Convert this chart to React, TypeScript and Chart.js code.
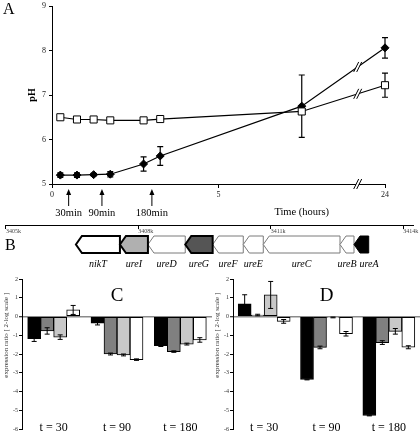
import React, { useEffect, useRef } from "react";
import { Chart, registerables } from "chart.js";
Chart.register(...registerables);

// ---------------- Panel A: pH over time ----------------
const TIME_H = [0.25, 0.75, 1.25, 1.75, 2.75, 3.25, 7.5, 24];
const PH_FILLED = [5.2, 5.2, 5.21, 5.22, 5.45, 5.63, 6.75, 8.06];
const PH_FILLED_ERR = [0.05, 0.05, 0.03, 0.06, 0.16, 0.21, 0.7, 0.23];
const PH_OPEN = [6.5, 6.45, 6.45, 6.43, 6.43, 6.46, 6.63, 7.22];
const PH_OPEN_ERR = [0, 0, 0, 0, 0, 0, 0, 0.27];
const TIME_TICKS_H = [0, 5, 24];
const SAMPLE_MIN = [30, 90, 180];
// broken time axis: linear up to 9 h, then 15 h squeezed into one axis unit
const AXIS_BREAK_FROM_H = 9;
const AXIS_BREAK_SQUEEZE = 15;
const BREAK_MARK_AT = 9.18;

// ---------------- Panel B: gene map ----------------
const GENE_NAMES = ["nikT", "ureI", "ureD", "ureG", "ureF", "ureE", "ureC", "ureB", "ureA"];
const GENE_START_KB = [3406.586, 3407.583, 3408.217, 3409.062, 3409.683, 3410.376, 3410.829, 3412.567, 3412.884];
const GENE_END_KB = [3407.583, 3408.217, 3409.062, 3409.683, 3410.376, 3410.829, 3412.567, 3412.884, 3413.217];
const GENE_FILL = ["#ffffff", "#b0b0b0", "#ffffff", "#555555", "#ffffff", "#ffffff", "#ffffff", "#ffffff", "#000000"];
const GENE_STUDIED = [true, true, false, true, false, false, false, false, true];
const GENOME_TICKS_KB = [3405, 3408, 3411, 3414];
const GENOME_MIN_KB = 3404.98;
const GENOME_MAX_KB = 3414.22;

// ---------------- Panels C / D: expression ratios ----------------
const TIMEPOINTS = ["t = 30", "t = 90", "t = 180"];
const C_UREA = [-1.18, -0.35, -1.55];
const C_UREA_ERR = [0.15, 0.1, 0.05];
const C_UREG = [-0.77, -2.0, -1.87];
const C_UREG_ERR = [0.17, 0.05, 0.04];
const C_UREI = [-1.1, -2.05, -1.47];
const C_UREI_ERR = [0.12, 0.05, 0.05];
const C_NIKT = [0.35, -2.3, -1.25];
const C_NIKT_ERR = [0.24, 0.04, 0.12];
const D_UREA = [0.68, -3.36, -5.28];
const D_UREA_ERR = [0.48, 0.02, 0.02];
const D_UREG = [0.08, -1.65, -1.39];
const D_UREG_ERR = [0.04, 0.07, 0.1];
const D_UREI = [1.15, -0.05, -0.79];
const D_UREI_ERR = [0.72, 0.02, 0.15];
const D_NIKT = [-0.26, -0.92, -1.64];
const D_NIKT_ERR = [0.1, 0.12, 0.08];
const BAR_COLORS = ["#000000", "#808080", "#c8c8c8", "#ffffff"];

const SERIF = "'Liberation Serif','Times New Roman',Times,serif";

function axisPos(h: number) {
  return h <= AXIS_BREAK_FROM_H ? h : AXIS_BREAK_FROM_H + (h - AXIS_BREAK_FROM_H) / AXIS_BREAK_SQUEEZE;
}

function drawBreak(ctx: CanvasRenderingContext2D, x: number, y: number) {
  ctx.save();
  ctx.fillStyle = "#fff";
  ctx.beginPath();
  ctx.moveTo(x - 4, y + 5);
  ctx.lineTo(x + 1, y - 5);
  ctx.lineTo(x + 4, y - 5);
  ctx.lineTo(x - 1, y + 5);
  ctx.closePath();
  ctx.fill();
  ctx.strokeStyle = "#000";
  ctx.lineWidth = 1;
  ctx.beginPath();
  ctx.moveTo(x - 4, y + 5);
  ctx.lineTo(x + 1, y - 5);
  ctx.moveTo(x - 1, y + 5);
  ctx.lineTo(x + 4, y - 5);
  ctx.stroke();
  ctx.restore();
}

function errBar(ctx: CanvasRenderingContext2D, x: number, t: number, b: number, cap: number, lw: number) {
  ctx.save();
  ctx.strokeStyle = "#000";
  ctx.lineWidth = lw;
  ctx.beginPath();
  ctx.moveTo(x, t);
  ctx.lineTo(x, b);
  ctx.moveTo(x - cap, t);
  ctx.lineTo(x + cap, t);
  ctx.moveTo(x - cap, b);
  ctx.lineTo(x + cap, b);
  ctx.stroke();
  ctx.restore();
}

const panelAPlugin = {
  id: "panelA",
  beforeDatasetsDraw(chart: any) {
    const ctx = chart.ctx;
    const ys = chart.scales.y;
    chart.data.datasets.forEach((ds: any, d: number) => {
      const meta = chart.getDatasetMeta(d);
      ds.errors.forEach((e: number, i: number) => {
        if (!e) return;
        const pt = meta.data[i];
        const v = ds.data[i].y;
        errBar(ctx, pt.x, ys.getPixelForValue(v + e), ys.getPixelForValue(v - e), 3, 1.2);
      });
    });
  },
  afterDatasetsDraw(chart: any) {
    const ctx = chart.ctx;
    const xs = chart.scales.x;
    const bx = xs.getPixelForValue(BREAK_MARK_AT);
    chart.data.datasets.forEach((ds: any, d: number) => {
      const meta = chart.getDatasetMeta(d);
      for (let j = 0; j < meta.data.length - 1; j++) {
        const a = meta.data[j], b = meta.data[j + 1];
        if (a.x < bx && b.x > bx) {
          const f = (bx - a.x) / (b.x - a.x);
          drawBreak(ctx, bx, a.y + f * (b.y - a.y));
        }
      }
    });
    drawBreak(ctx, bx, chart.chartArea.bottom);
  },
  afterDraw(chart: any) {
    const ctx = chart.ctx;
    const xs = chart.scales.x;
    const area = chart.chartArea;
    ctx.save();
    ctx.fillStyle = "#000";
    ctx.strokeStyle = "#000";
    ctx.textAlign = "center";
    ctx.textBaseline = "middle";
    ctx.font = `10.5px ${SERIF}`;
    SAMPLE_MIN.forEach((m) => {
      const x = xs.getPixelForValue(axisPos(m / 60));
      const top = area.bottom + 5;
      ctx.beginPath();
      ctx.moveTo(x, top);
      ctx.lineTo(x - 2.5, top + 6);
      ctx.lineTo(x + 2.5, top + 6);
      ctx.closePath();
      ctx.fill();
      ctx.lineWidth = 1;
      ctx.beginPath();
      ctx.moveTo(x, top + 5);
      ctx.lineTo(x, top + 17);
      ctx.stroke();
      ctx.fillText(`${m}min`, x, area.bottom + 29);
    });
    ctx.fillText("Time (hours)", area.left + (area.right - area.left) * 0.75, area.bottom + 28);
    ctx.textAlign = "left";
    ctx.textBaseline = "alphabetic";
    ctx.font = `16px ${SERIF}`;
    ctx.fillText("A", 3, 13.5);
    ctx.restore();
  },
};

function makeA(): any {
  const pts = (vals: number[]) => TIME_H.map((h, i) => ({ x: axisPos(h), y: vals[i] }));
  const tickFont = { family: SERIF, size: 8 };
  return {
    type: "scatter",
    data: {
      datasets: [
        {
          label: "control",
          data: pts(PH_OPEN),
          errors: PH_OPEN_ERR,
          showLine: true,
          borderColor: "#000",
          borderWidth: 1.2,
          pointStyle: "rect",
          pointRadius: 5,
          pointBackgroundColor: "#fff",
          pointBorderColor: "#000",
          pointBorderWidth: 1,
          clip: false,
        },
        {
          label: "urea",
          data: pts(PH_FILLED),
          errors: PH_FILLED_ERR,
          showLine: true,
          borderColor: "#000",
          borderWidth: 1.2,
          pointStyle: "rectRot",
          pointRadius: 4,
          pointBackgroundColor: "#000",
          pointBorderColor: "#000",
          pointBorderWidth: 1,
          clip: false,
        },
      ],
    },
    options: {
      responsive: false,
      animation: false,
      events: [],
      layout: { padding: { left: 26, top: 3, right: 35, bottom: 0 } },
      plugins: { legend: { display: false }, tooltip: { enabled: false } },
      scales: {
        x: {
          type: "linear",
          min: 0,
          max: axisPos(24),
          afterBuildTicks: (s: any) => {
            s.ticks = TIME_TICKS_H.map((h) => ({ value: axisPos(h) }));
          },
          afterFit: (s: any) => {
            s.height = 36;
            s.paddingLeft = 0;
            s.paddingRight = 0;
          },
          ticks: {
            callback: (_v: any, i: number) => String(TIME_TICKS_H[i]),
            font: tickFont,
            color: "#222",
            padding: 2,
            maxRotation: 0,
            autoSkip: false,
          },
          grid: { drawOnChartArea: false, tickLength: 4, color: "#000" },
          border: { color: "#000", width: 1 },
        },
        y: {
          min: 5,
          max: 9,
          afterFit: (s: any) => {
            s.width = 26;
            s.paddingTop = 0;
            s.paddingBottom = 0;
          },
          ticks: { stepSize: 1, font: tickFont, color: "#222", padding: 3 },
          grid: { drawOnChartArea: false, tickLength: 3, color: "#000" },
          border: { color: "#000", width: 1 },
          title: {
            display: true,
            text: "pH",
            color: "#000",
            font: { family: SERIF, size: 10, weight: "bold" },
            padding: 0,
          },
        },
      },
    },
    plugins: [panelAPlugin],
  };
}

const panelBPlugin = {
  id: "panelB",
  afterDraw(chart: any) {
    const ctx = chart.ctx;
    const xs = chart.scales.x;
    const base = chart.chartArea.bottom;
    const top = base + 11;
    const bot = base + 28;
    const mid = (top + bot) / 2;
    const tip = 6;
    const order = GENE_NAMES.map((_, i) => i).sort((a, b) => Number(GENE_STUDIED[a] && GENE_FILL[a] !== "#000000") - Number(GENE_STUDIED[b] && GENE_FILL[b] !== "#000000"));
    ctx.save();
    order.forEach((i) => {
      const x1 = xs.getPixelForValue(GENE_START_KB[i]);
      const x2 = xs.getPixelForValue(GENE_END_KB[i]);
      ctx.beginPath();
      ctx.moveTo(x1, mid);
      ctx.lineTo(x1 + tip, top);
      ctx.lineTo(x2, top);
      ctx.lineTo(x2, bot);
      ctx.lineTo(x1 + tip, bot);
      ctx.closePath();
      ctx.fillStyle = GENE_FILL[i];
      ctx.fill();
      const thick = GENE_STUDIED[i] && GENE_FILL[i] !== "#000000";
      ctx.lineJoin = "miter";
      ctx.lineWidth = thick ? 2 : 1;
      ctx.strokeStyle = thick || GENE_FILL[i] === "#000000" ? "#000" : "#7a7a7a";
      ctx.stroke();
    });
    ctx.font = `italic 10px ${SERIF}`;
    ctx.fillStyle = "#000";
    ctx.textAlign = "left";
    ctx.textBaseline = "alphabetic";
    let prevRight = -Infinity;
    GENE_NAMES.forEach((name, i) => {
      const c = (xs.getPixelForValue(GENE_START_KB[i]) + xs.getPixelForValue(GENE_END_KB[i])) / 2;
      const w = ctx.measureText(name).width;
      let left = c - w / 2;
      if (left < prevRight + 3) left = prevRight + 3;
      ctx.fillText(name, left, base + 42);
      prevRight = left + w;
    });
    ctx.font = `16px ${SERIF}`;
    ctx.fillText("B", 5, 35);
    ctx.restore();
  },
};

function makeB(): any {
  return {
    type: "scatter",
    data: { datasets: [] },
    options: {
      responsive: false,
      animation: false,
      events: [],
      layout: { padding: { left: 5, right: 7, top: 0, bottom: 0 } },
      plugins: { legend: { display: false }, tooltip: { enabled: false } },
      scales: {
        x: {
          type: "linear",
          min: GENOME_MIN_KB,
          max: GENOME_MAX_KB,
          afterBuildTicks: (s: any) => {
            s.ticks = GENOME_TICKS_KB.map((v) => ({ value: v }));
          },
          afterFit: (s: any) => {
            s.height = 50;
            s.paddingLeft = 0;
            s.paddingRight = 0;
          },
          ticks: {
            callback: (v: any) => `${v}k`,
            align: "start",
            font: { family: SERIF, size: 6 },
            color: "#444",
            padding: -1,
            maxRotation: 0,
            autoSkip: false,
          },
          grid: { drawOnChartArea: false, tickLength: 4, color: "#000" },
          border: { color: "#000", width: 1 },
        },
        y: { display: false, min: 0, max: 1 },
      },
    },
    plugins: [panelBPlugin],
  };
}

function makeExprPlugin(letter: string) {
  return {
    id: "panel" + letter,
    afterDatasetsDraw(chart: any) {
      const ctx = chart.ctx;
      const ys = chart.scales.y;
      chart.data.datasets.forEach((ds: any, d: number) => {
        const meta = chart.getDatasetMeta(d);
        ds.errors.forEach((e: number, i: number) => {
          const el = meta.data[i];
          const v = ds.data[i];
          errBar(ctx, el.x, ys.getPixelForValue(v + e), ys.getPixelForValue(v - e), 2.5, 1);
        });
      });
    },
    afterDraw(chart: any) {
      const ctx = chart.ctx;
      const xs = chart.scales.x;
      const ys = chart.scales.y;
      const area = chart.chartArea;
      ctx.save();
      ctx.fillStyle = "#000";
      ctx.textAlign = "center";
      ctx.textBaseline = "middle";
      ctx.font = `12px ${SERIF}`;
      TIMEPOINTS.forEach((t, i) => ctx.fillText(t, xs.getPixelForValue(i), area.bottom - 1.5));
      ctx.font = `19px ${SERIF}`;
      ctx.fillText(letter, xs.getPixelForValue(1), ys.getPixelForValue(1.07));
      ctx.translate(area.left - 16, ys.getPixelForValue(-1));
      ctx.rotate(-Math.PI / 2);
      ctx.font = `7px ${SERIF}`;
      ctx.fillStyle = "#333";
      ctx.fillText("expression ratio [ 2-log scale ]", 0, 0);
      ctx.restore();
    },
  };
}

function makeExpr(letter: string, series: number[][], errors: number[][], axisWidth: number): any {
  const names = ["ureA", "ureG", "ureI", "nikT"];
  return {
    type: "bar",
    data: {
      labels: TIMEPOINTS,
      datasets: series.map((vals, k) => ({
        label: names[k],
        data: vals,
        errors: errors[k],
        backgroundColor: BAR_COLORS[k],
        borderColor: "#000",
        borderWidth: 1,
        borderSkipped: false,
        barThickness: 13,
      })),
    },
    options: {
      responsive: false,
      animation: false,
      events: [],
      layout: { padding: { left: 0, right: 0, top: 9, bottom: 5 } },
      plugins: { legend: { display: false }, tooltip: { enabled: false } },
      scales: {
        x: { type: "category", display: false, offset: true },
        y: {
          min: -6,
          max: 2,
          z: 1,
          afterFit: (s: any) => {
            s.width = axisWidth;
            s.paddingTop = 0;
            s.paddingBottom = 0;
          },
          ticks: { stepSize: 1, font: { family: SERIF, size: 6 }, color: "#333", padding: 1 },
          grid: {
            drawOnChartArea: true,
            color: (c: any) => (c.tick && c.tick.value === 0 ? "#8a8a8a" : "rgba(0,0,0,0)"),
            lineWidth: (c: any) => (c.tick && c.tick.value === 0 ? 1.5 : 1),
            tickColor: "#000",
            tickWidth: 1,
            tickLength: 3,
          },
          border: { color: "#000", width: 1 },
        },
      },
    },
    plugins: [makeExprPlugin(letter)],
  };
}

function ChartBox(props: { left: number; top: number; width: number; height: number; make: () => any }) {
  const ref = useRef<HTMLCanvasElement>(null);
  useEffect(() => {
    const chart = new Chart(ref.current as HTMLCanvasElement, props.make());
    return () => chart.destroy();
  }, []);
  return (
    <canvas
      ref={ref}
      width={props.width}
      height={props.height}
      style={{ position: "absolute", left: props.left, top: props.top, width: props.width, height: props.height }}
    />
  );
}

export default function App() {
  return (
    <div style={{ position: "fixed", left: 0, top: 0, width: 420, height: 434, background: "#fff", overflow: "hidden" }}>
      <ChartBox left={0} top={0} width={420} height={220} make={makeA} />
      <ChartBox left={0} top={215} width={420} height={60} make={makeB} />
      <ChartBox
        left={0}
        top={270}
        width={212}
        height={164}
        make={() =>
          makeExpr("C", [C_UREA, C_UREG, C_UREI, C_NIKT], [C_UREA_ERR, C_UREG_ERR, C_UREI_ERR, C_NIKT_ERR], 22)
        }
      />
      <ChartBox
        left={212}
        top={270}
        width={208}
        height={164}
        make={() =>
          makeExpr("D", [D_UREA, D_UREG, D_UREI, D_NIKT], [D_UREA_ERR, D_UREG_ERR, D_UREI_ERR, D_NIKT_ERR], 21)
        }
      />
    </div>
  );
}
